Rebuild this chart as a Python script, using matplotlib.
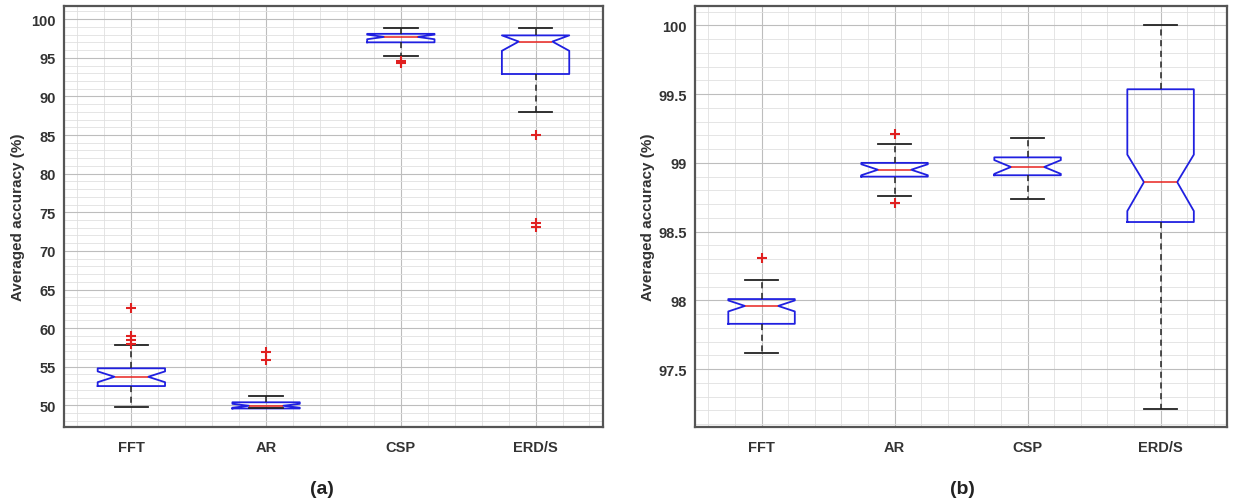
import matplotlib
matplotlib.use('Agg')
import matplotlib.pyplot as plt
from matplotlib.ticker import MultipleLocator

plt.rcParams['font.family'] = ['Liberation Sans', 'DejaVu Sans']
plt.rcParams['font.weight'] = 'bold'

# feature extraction methods
labels = ['FFT', 'AR', 'CSP', 'ERD/S']

# panel (a) box statistics (averaged accuracy, %)
a_med = [53.7, 49.95, 97.7, 97.1]
a_q1 = [52.5, 49.6, 97.0, 92.9]
a_q3 = [54.8, 50.4, 98.1, 97.9]
a_whislo = [49.8, 49.6, 95.2, 88.0]
a_whishi = [57.8, 51.2, 98.9, 98.9]
a_cilo = [53.0, 49.7, 97.4, 95.9]
a_cihi = [54.4, 50.2, 98.0, 97.9]
a_fliers = [[62.6, 59.0, 58.4, 57.9], [56.9, 55.9], [94.3, 94.6],
            [85.0, 73.6, 73.1]]

# panel (b) box statistics
b_med = [97.96, 98.95, 98.97, 98.86]
b_q1 = [97.83, 98.9, 98.91, 98.57]
b_q3 = [98.01, 99.0, 99.04, 99.535]
b_whislo = [97.62, 98.76, 98.74, 97.21]
b_whishi = [98.15, 99.135, 99.18, 100.0]
b_cilo = [97.92, 98.91, 98.92, 98.65]
b_cihi = [98.0, 98.99, 99.02, 99.06]
b_fliers = [[98.31], [99.21, 98.71], [], []]

a_yticks = [50, 55, 60, 65, 70, 75, 80, 85, 90, 95, 100]
b_yticks = [97.5, 98, 98.5, 99, 99.5, 100]
b_yticklabels = ['97.5', '98', '98.5', '99', '99.5', '100']


def make_stats(med, q1, q3, lo, hi, cilo, cihi, fliers):
    stats = []
    for i in range(len(labels)):
        stats.append(dict(med=med[i], q1=q1[i], q3=q3[i], whislo=lo[i],
                          whishi=hi[i], cilo=cilo[i], cihi=cihi[i],
                          fliers=fliers[i], label=labels[i]))
    return stats


def draw_panel(ax, stats, ylim, yticks, yticklabels, minor):
    ax.bxp(stats, widths=0.5, shownotches=True, patch_artist=False,
           boxprops=dict(color='#2020e0', linewidth=1.3),
           medianprops=dict(color='#e8231f', linewidth=1.1),
           whiskerprops=dict(color='#222222', linewidth=1.1, linestyle=(0, (4, 3))),
           capprops=dict(color='#222222', linewidth=1.3),
           flierprops=dict(marker='+', markeredgecolor='#e02020',
                           markersize=7, markeredgewidth=1.5))
    ax.set_xlim(0.5, 4.5)
    ax.set_ylim(*ylim)
    ax.set_yticks(yticks)
    ax.set_yticklabels(yticklabels)
    ax.xaxis.set_minor_locator(MultipleLocator(0.2))
    ax.yaxis.set_minor_locator(MultipleLocator(minor))
    ax.grid(True, which='major', color='#bdbdbd', linewidth=0.8)
    ax.grid(True, which='minor', color='#e0e0e0', linewidth=0.6)
    ax.set_axisbelow(True)
    ax.tick_params(which='both', length=0, labelsize=10.5,
                   labelcolor='#333333')
    ax.tick_params(axis='x', pad=9)
    ax.tick_params(axis='y', pad=6)
    for sp in ax.spines.values():
        sp.set_color('#555555')
        sp.set_linewidth(1.6)
    ax.set_ylabel('Averaged accuracy (%)', fontsize=11, fontweight='bold',
                  color='#333333')


fig = plt.figure(figsize=(12.33, 5.02), dpi=100)
ax1 = fig.add_axes([0.0519, 0.1474, 0.4371, 0.8386])
ax2 = fig.add_axes([0.5637, 0.1474, 0.4315, 0.8386])

draw_panel(ax1, make_stats(a_med, a_q1, a_q3, a_whislo, a_whishi,
                           a_cilo, a_cihi, a_fliers),
           (47.2, 101.7), a_yticks, [str(t) for t in a_yticks], 1)
draw_panel(ax2, make_stats(b_med, b_q1, b_q3, b_whislo, b_whishi,
                           b_cilo, b_cihi, b_fliers),
           (97.08, 100.14), b_yticks, b_yticklabels, 0.1)

ax1.yaxis.set_label_coords(-0.072, 0.5)
ax2.yaxis.set_label_coords(-0.076, 0.5)

fig.text(322 / 1233, 1 - 490 / 502, '(a)', fontsize=14, fontweight='bold',
         ha='center', va='center', color='#222222')
fig.text(962 / 1233, 1 - 490 / 502, '(b)', fontsize=14, fontweight='bold',
         ha='center', va='center', color='#222222')

fig.savefig('out.png', dpi=100)
